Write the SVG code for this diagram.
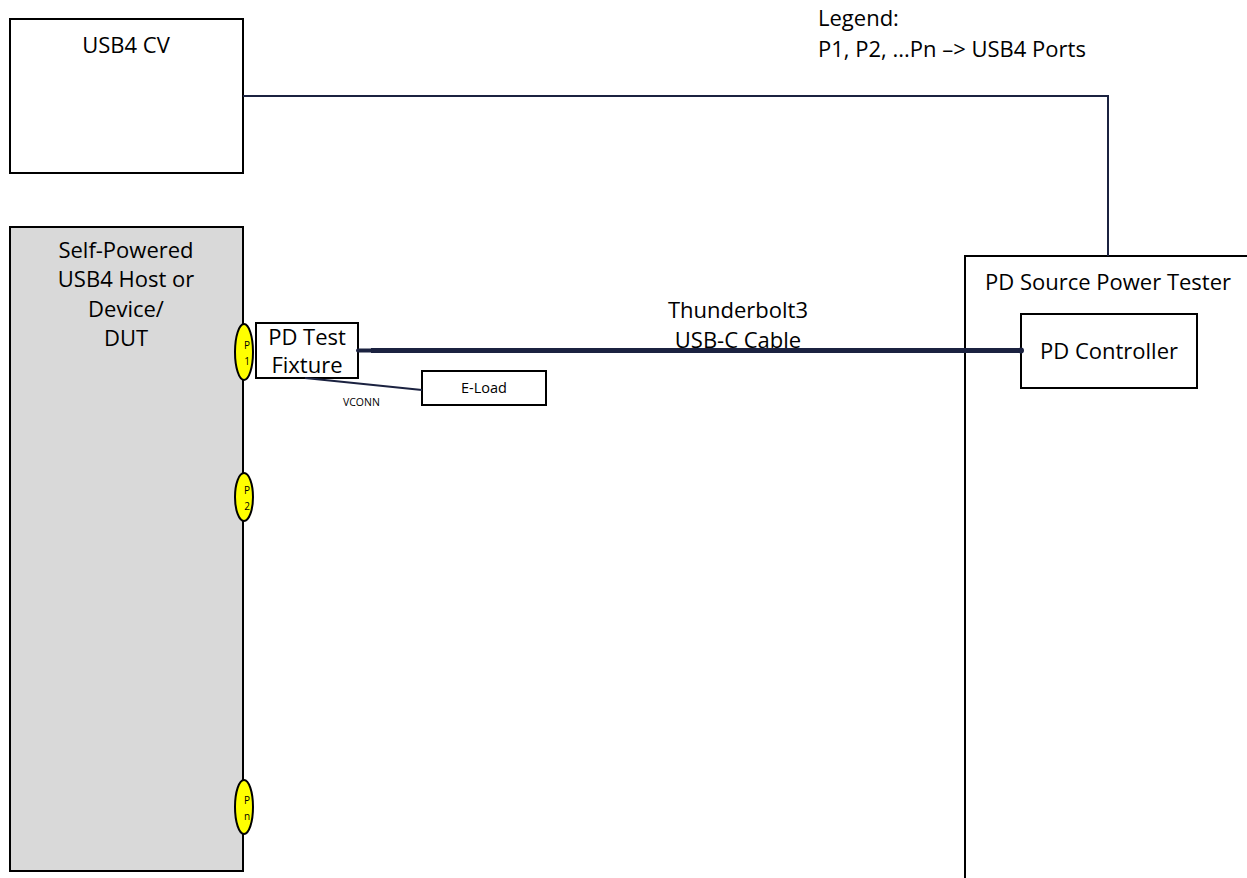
<svg xmlns="http://www.w3.org/2000/svg" width="1247" height="878" viewBox="0 0 1247 878">
<style>
.box{fill:#fff;stroke:#000;stroke-width:2}
.t{font-family:"Open Sans","Liberation Sans",sans-serif;font-size:22px;fill:#000}
.c{text-anchor:middle}
.port{fill:#ffff00;stroke:#000;stroke-width:2}
.pt{font-family:"Open Sans","Liberation Sans",sans-serif;font-size:10px;fill:#000;text-anchor:middle}
.wire{fill:none;stroke:#1b2240;stroke-width:2}
</style>
<rect width="1247" height="878" fill="#fff"/>
<g id="legend">
<text class="t" x="818" y="26">Legend:</text>
<text class="t" x="818" y="57">P1, P2, ...Pn –&gt; USB4 Ports</text>
</g>
<g id="usb4cv">
<rect class="box" x="10" y="19" width="233" height="154"/>
<text class="t c" x="126" y="53">USB4 CV</text>
</g>
<g id="dut">
<rect class="box" x="10" y="227" width="233" height="644" style="fill:#d9d9d9"/>
<text class="t c" x="126" y="258">Self-Powered</text>
<text class="t c" x="126" y="287">USB4 Host or</text>
<text class="t c" x="126" y="317">Device/</text>
<text class="t c" x="126" y="346">DUT</text>
</g>
<g id="p1">
<ellipse class="port" cx="244" cy="352" rx="9" ry="28"/>
<text class="pt" x="247" y="349">P</text>
<text class="pt" x="247" y="365">1</text>
</g>
<g id="p2">
<ellipse class="port" cx="244" cy="497" rx="9" ry="24"/>
<text class="pt" x="247" y="494">P</text>
<text class="pt" x="247" y="510">2</text>
</g>
<g id="pn">
<ellipse class="port" cx="244" cy="807" rx="9" ry="27"/>
<text class="pt" x="247" y="804">P</text>
<text class="pt" x="247" y="820">n</text>
</g>
<g id="fixture">
<rect class="box" x="256" y="323" width="102" height="55"/>
<text class="t c" x="307" y="345">PD Test</text>
<text class="t c" x="307" y="373">Fixture</text>
</g>
<g id="eload">
<rect class="box" x="422" y="371" width="124" height="34"/>
<text class="c" x="484" y="393" style="font-family:'Open Sans','Liberation Sans',sans-serif;font-size:14.5px">E-Load</text>
</g>
<g id="tester">
<rect class="box" x="965" y="256" width="320" height="700"/>
<text class="t" x="985" y="290">PD Source Power Tester</text>
</g>
<g id="controller">
<rect class="box" x="1021" y="314" width="176" height="74"/>
<text class="t c" x="1109" y="359">PD Controller</text>
</g>
<g id="connectors">
<polyline class="wire" points="243,96 1108,96 1108,256"/>
<line x1="305" y1="378" x2="422" y2="390" class="wire"/>
<line x1="371" y1="350.5" x2="1021" y2="350.5" stroke="#1b2240" stroke-width="5"/>
<line x1="358" y1="350.5" x2="372" y2="350.5" stroke="#1b2240" stroke-width="4" stroke-linecap="round"/>
<circle cx="1021" cy="350.5" r="3" fill="#1b2240"/>
<text class="t c" x="738" y="318">Thunderbolt3</text>
<text class="t c" x="738" y="348">USB-C Cable</text>
<text x="343" y="406" style="font-family:'Open Sans','Liberation Sans',sans-serif;font-size:10.5px;fill:#000">VCONN</text>
</g>
</svg>
